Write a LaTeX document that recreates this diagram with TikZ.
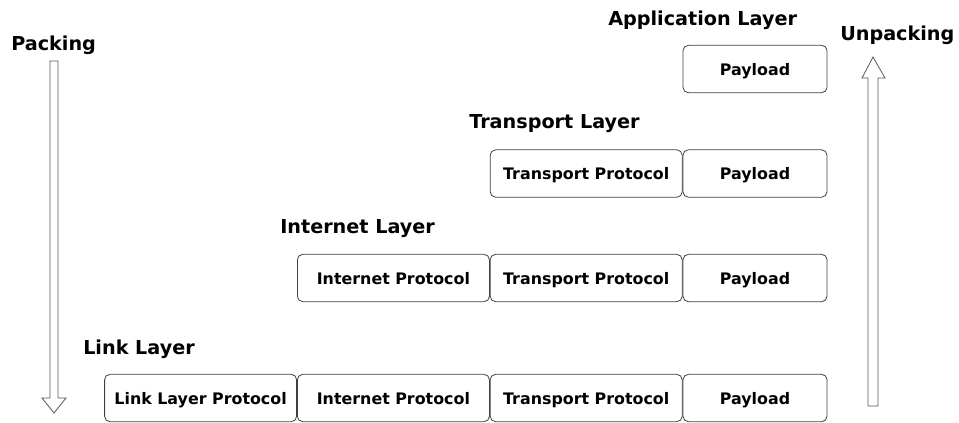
\documentclass[tikz,border=0pt]{standalone}
\usepackage{fontspec}
\setmainfont{DejaVu Sans}
\usetikzlibrary{positioning}

\begin{document}
\begin{tikzpicture}[
  x=0.75pt, y=-0.75pt,
  node distance=0pt,
  font=\bfseries,
  every node/.style={align=center},
  field/.style={draw=black!75, line width=0.6pt, rounded corners=4pt, minimum height=35.5pt, inner sep=0pt, text height=1.85ex, text depth=0.15ex, font=\bfseries\fontsize{11.9}{13}\selectfont},
  payload/.style={field, minimum width=108pt},
  header/.style={field, minimum width=144pt},
  layer/.style={anchor=west, inner sep=0pt, text height=1.6ex, text depth=0.4ex, font=\bfseries\fontsize{14.4}{17}\selectfont},
  hollow/.style={draw=black!65, line width=0.6pt, fill=white}
]
\useasboundingbox (0,0) rectangle (959,422);

% application layer
\node[layer] (appl) at (608,21) {Application Layer};
\node[payload] (pay1) at (755,69) {Payload};

% transport layer
\node[layer] (transl) at (469,124) {Transport Layer};
\node[payload] (pay2) at (755,173.5) {Payload};
\node[header, left=of pay2] (tp2) {Transport Protocol};

% internet layer
\node[layer] (inetl) at (280,229) {Internet Layer};
\node[payload] (pay3) at (755,278) {Payload};
\node[header, left=of pay3] (tp3) {Transport Protocol};
\node[header, left=of tp3] (ip3) {Internet Protocol};

% link layer
\node[layer] (linkl) at (83,350) {Link Layer};
\node[payload] (pay4) at (755,398) {Payload};
\node[header, left=of pay4] (tp4) {Transport Protocol};
\node[header, left=of tp4] (ip4) {Internet Protocol};
\node[header, left=of ip4] (ll4) {Link Layer Protocol};

% direction arrows
\node[layer] (pack) at (11,46) {Packing};
\node[layer] (unpack) at (840,36) {Unpacking};
\draw[hollow] (50,61) -- (58,61) -- (58,398) -- (66,398) -- (54,413)
  -- (42,398) -- (50,398) -- cycle;
\draw[hollow] (868,406) -- (878,406) -- (878,78) -- (885,78) -- (873,57)
  -- (862,78) -- (868,78) -- cycle;
\end{tikzpicture}
\end{document}
